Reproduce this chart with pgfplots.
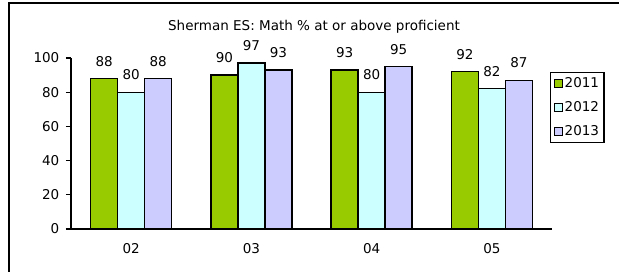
\documentclass[border=0pt]{standalone}
\usepackage{pgfplots}
\pgfplotsset{compat=1.18}
\usepackage{fontspec}
\setmainfont{DejaVu Sans}
\definecolor{cgreen}{HTML}{99CC00}
\definecolor{ccyan}{HTML}{CCFFFF}
\definecolor{clav}{HTML}{CCCCFF}
\newcommand{\fs}{\fontsize{13.5}{15}\selectfont}
\begin{document}
\begin{tikzpicture}
\fs
\begin{axis}[
  at={(71pt,42pt)}, anchor=south west,
  scale only axis, width=481pt, height=171pt,
  xmin=-0.5, xmax=3.5, ymin=0, ymax=100,
  clip=false,
  axis x line=bottom, axis y line=left,
  axis line style={line width=1.3pt,-},
  ybar=0pt, bar width=27pt,
  xtick={0,1,2,3}, xticklabels={02,03,04,05},
  major x tick style={draw=none},
  xticklabel style={yshift=-5pt, font=\fs},
  extra x ticks={-0.5,0.5,1.5,2.5,3.5}, extra x tick labels={},
  extra x tick style={major tick length=5pt, tick align=outside, tick style={line width=1.3pt, black}},
  ytick={0,20,40,60,80,100},
  ytick style={line width=1.3pt, black},
  y tick label style={font=\fs, xshift=-2pt},
  tick align=outside, major tick length=5pt,
  /pgf/number format/assume math mode=true,
  nodes near coords,
  every node near coord/.append style={font=\fs, yshift=7pt, black},
  legend style={at={(0.996,0.918)}, anchor=north west, draw=black, line width=1.2pt,
    font=\fs, row sep=8pt, inner sep=3pt},
  legend cell align=left,
  legend image code/.code={\draw[#1, line width=1pt] (0pt,-4pt) rectangle (8pt,4pt);},
]
\addplot[draw=black, line width=1.3pt, fill=cgreen] coordinates {(0,88) (1,90) (2,93) (3,92)};
\addplot[draw=black, line width=1.3pt, fill=ccyan] coordinates {(0,80) (1,97) (2,80) (3,82)};
\addplot[draw=black, line width=1.3pt, fill=clav] coordinates {(0,88) (1,93) (2,95) (3,87)};
\legend{2011,2012,2013}
\end{axis}
\node[font=\fs] at (314pt,244pt) {Sherman ES: Math \% at or above proficient};
\draw[line width=1.5pt] (9pt,-10pt) -- (9pt,268pt) -- (630pt,268pt);
\pgfresetboundingbox
\useasboundingbox (0,0) rectangle (619pt,271pt);
\end{tikzpicture}
\end{document}
